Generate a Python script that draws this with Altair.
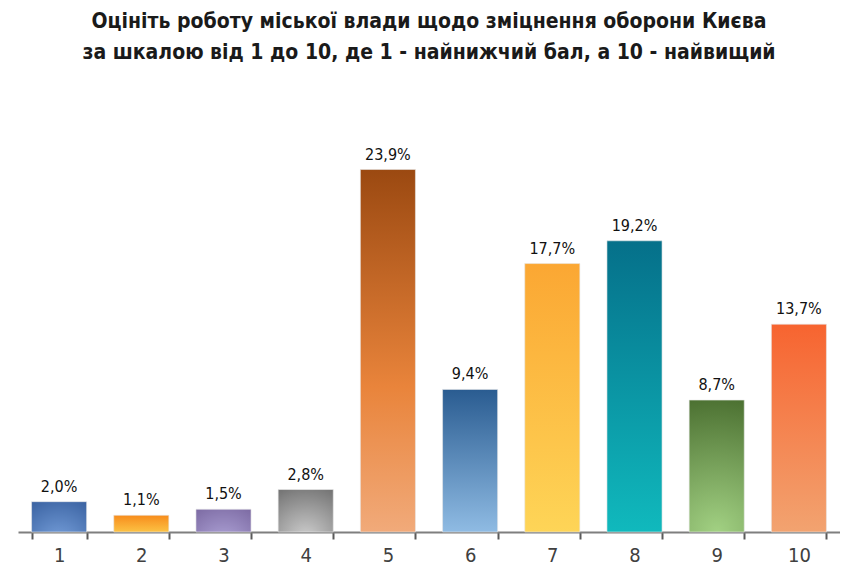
import altair as alt
import pandas as pd

categories = ["1", "2", "3", "4", "5", "6", "7", "8", "9", "10"]
values = [2.0, 1.1, 1.5, 2.8, 23.9, 9.4, 17.7, 19.2, 8.7, 13.7]
labels = ["2,0%", "1,1%", "1,5%", "2,8%", "23,9%", "9,4%", "17,7%", "19,2%", "8,7%", "13,7%"]

title_lines = ["Оцініть роботу міської влади щодо зміцнення оборони Києва",
               "за шкалою від 1 до 10, де 1 - найнижчий бал, а 10 - найвищий"]

df = pd.DataFrame({"cat": categories, "val": values, "lab": labels})


def lin(top, bottom, mid=None):
    stops = [{"offset": 0, "color": top}]
    if mid:
        stops.append({"offset": 0.6, "color": mid})
    stops.append({"offset": 1, "color": bottom})
    return {"gradient": "linear", "x1": 0, "y1": 0, "x2": 0, "y2": 1, "stops": stops}


def rad(edge, center):
    return {"gradient": "radial", "x1": 0.5, "y1": 1, "r1": 0, "x2": 0.5, "y2": 1, "r2": 1.1,
            "stops": [{"offset": 0, "color": center}, {"offset": 1, "color": edge}]}


fills = [
    rad("#2d5595", "#7aa3de"),
    lin("#f78c1c", "#fcc244"),
    rad("#6c5892", "#b6acdf"),
    rad("#6a6a6a", "#cfcfcf"),
    lin("#9b4911", "#f1aa7a", "#e9843b"),
    lin("#2a5c91", "#8fbbe3"),
    lin("#fba733", "#fed557"),
    lin("#05708a", "#10b9bd"),
    rad("#45692b", "#a2d183"),
    lin("#f76430", "#f2a370"),
]

x = alt.X("cat:N", sort=categories, title=None,
          scale=alt.Scale(paddingInner=0.33, paddingOuter=0.165),
          axis=alt.Axis(labelAngle=0, tickBand="extent", tickSize=7, tickWidth=2,
                        tickColor="#5a5a5a", domainColor="#7f7f7f", domainWidth=2,
                        labelFont="DejaVu Sans Condensed", labelFontSize=20,
                        labelColor="#404040", labelPadding=6, grid=False))
y = alt.Y("val:Q", title=None, scale=alt.Scale(domain=[0, 30]), axis=None)

layers = []
for c, f in zip(categories, fills):
    layers.append(
        alt.Chart(df).transform_filter(alt.datum.cat == c)
        .mark_bar(color=f, stroke="#e8e8e8", strokeWidth=0.6)
        .encode(x=x, y=y)
    )

text = alt.Chart(df).mark_text(font="DejaVu Sans Condensed", fontSize=16, color="#111111",
                               baseline="alphabetic", dy=-10).encode(
    x=x, y=y, text="lab:N")

chart = alt.layer(*layers, text).properties(
    width=822, height=455,
    background="white",
    title=alt.TitleParams(title_lines, font="DejaVu Sans Condensed", fontSize=21,
                          fontWeight="bold", color="#1a1a1a", lineHeight=31,
                          anchor="middle", offset=14),
    autosize=alt.AutoSizeParams(type="none"),
    padding={"left": 10, "top": 69, "right": 0, "bottom": 40},
).configure_view(strokeWidth=0, stroke="transparent")

chart.save("out.html", embed_options={"renderer": "svg", "actions": False})
